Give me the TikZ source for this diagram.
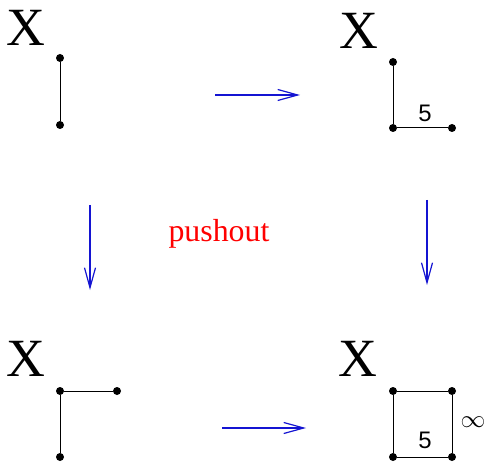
\documentclass[tikz,border=0pt]{standalone}
\usepackage{fontspec}
\setmainfont{Liberation Serif}
\setsansfont{Liberation Sans}
\usetikzlibrary{arrows.meta}
\definecolor{arrblue}{RGB}{20,20,210}
\tikzset{
  dot/.style={circle,fill=black,inner sep=0pt,minimum size=8bp},
  edge/.style={draw=black,line width=1bp},
  bigx/.style={inner sep=0pt,font=\fontsize{54}{54}\selectfont},
  num/.style={inner sep=0pt,font=\sffamily\fontsize{24}{24}\selectfont},
  arr/.style={draw=arrblue,line width=1.2bp,-{Straight Barb[length=20bp,width=11bp,line width=1.2bp]}}
}
\begin{document}
\begin{tikzpicture}[x=1bp,y=-1bp]
\useasboundingbox (0,0) rectangle (488,463);
% top-left
\node[bigx] (x1) at (26,28) {X};
\node[dot] (a1) at (60,58) {};
\node[dot] (a2) at (60,125) {};
\draw[edge] (a1) -- (a2);
% top-right
\node[bigx] (x2) at (359,31) {X};
\node[dot] (b1) at (393,62) {};
\node[dot] (b2) at (393,128) {};
\node[dot] (b3) at (452,128) {};
\draw[edge] (b1) -- (b2) -- (b3);
\node[num] (n1) at (425,113) {5};
% bottom-left
\node[bigx] (x3) at (26,359) {X};
\node[dot] (c1) at (60,391) {};
\node[dot] (c2) at (117,391) {};
\node[dot] (c3) at (60,457) {};
\draw[edge] (c2) -- (c1) -- (c3);
% bottom-right
\node[bigx] (x4) at (358,359) {X};
\node[dot] (d1) at (393,391) {};
\node[dot] (d2) at (452,391) {};
\node[dot] (d3) at (393,457) {};
\node[dot] (d4) at (452,457) {};
\draw[edge] (d1) -- (d2) -- (d4) -- (d3) -- (d1);
\node[num] (n2) at (425,440) {5};
\node[inner sep=0pt,font=\fontsize{26}{26}\selectfont] (inf) at (473,422) {$\infty$};
% arrows
\coordinate (t1) at (215,95);
\coordinate (t2) at (300,95);
\draw[arr] (t1) -- (t2);
\coordinate (l1) at (90,205);
\coordinate (l2) at (90,290);
\draw[arr] (l1) -- (l2);
\coordinate (r1) at (427,200);
\coordinate (r2) at (427,285);
\draw[arr] (r1) -- (r2);
\coordinate (m1) at (222,428);
\coordinate (m2) at (306,428);
\draw[arr] (m1) -- (m2);
\node[text=red,inner sep=0pt,font=\fontsize{32}{32}\selectfont] (po) at (219,234) {pushout};
\end{tikzpicture}
\end{document}
